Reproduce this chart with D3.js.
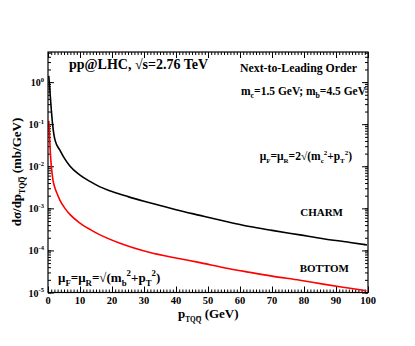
<!DOCTYPE html>
<head>
<meta charset="utf-8">
<style>
body { margin: 0; background: #fff; }
text { font-family: "Liberation Serif", "Times New Roman", serif; font-weight: bold; fill: #000; }
.frame { fill: none; stroke: #000; stroke-width: 1.2; }
.axis path { display: none; }
.axis line { stroke: #000; stroke-width: 1; }
.charm { fill: none; stroke: #000; stroke-width: 1.6; }
.bottom { fill: none; stroke: #f00; stroke-width: 1.6; }
.bar { stroke: #000; stroke-width: 0.8; }
</style>
</head>
<body>
<script src="https://cdnjs.cloudflare.com/ajax/libs/d3/7.8.5/d3.min.js"></script>
<script>
// data (mb/GeV)
var charmPt  = [0.25, 0.75, 1.4, 2.2, 3.75, 5.3, 6.9, 10, 13.1, 16.25, 20, 25, 30, 35, 40, 47.5, 55, 63, 70, 78.75, 86, 94.4, 99.7];
var charmVal = [1.41, 0.427, 0.105, 0.0417, 0.024, 0.0148, 0.01, 0.00617, 0.00437, 0.00324, 0.00251, 0.0019, 0.00148, 0.00117, 0.00093, 0.00068, 0.0005, 0.00037, 0.0003, 0.000234, 0.00019, 0.000155, 0.000135];

var bottomPt  = [0.25, 0.75, 1.56, 2.2, 2.8, 3.75, 5.3, 6.9, 10, 13.1, 16.25, 22.5, 31.9, 40, 47.5, 55, 63, 70, 78.75, 86, 94.4, 99.5];
var bottomVal = [0.12, 0.02, 0.00468, 0.00302, 0.00229, 0.00155, 0.001, 0.000708, 0.000447, 0.000316, 0.000234, 0.000148, 0.0000891, 0.0000661, 0.0000513, 0.0000389, 0.0000302, 0.0000245, 0.0000195, 0.0000158, 0.0000126, 0.000011];

var xTicks = [0, 10, 20, 30, 40, 50, 60, 70, 80, 90, 100];
var yTickExp = [-5, -4, -3, -2, -1, 0];

(function() {
	var
		W = 415,
		H = 346,
		margin = {top: 52, left: 48, right: 47, bottom: 53.5},
		w = W - margin.left - margin.right,
		h = H - margin.top - margin.bottom;

	var sx = d3.scaleLinear().domain([0, 100]).range([0, w]);
	var sy = d3.scaleLog().domain([1e-5, 5.2]).range([h, 0]);

	var svg = d3.select("body").append("svg")
		.attr("width", W)
		.attr("height", H);

	var vis = svg.append("g")
		.attr("transform", "translate(" + margin.left + "," + margin.top + ")");

	//
	// ticks, all pointing into the frame
	//
	var xMinor = d3.range(0, 101, 1);
	var yMajor = yTickExp.map(function(e) { return Math.pow(10, e); });
	var yMinor = sy.ticks().filter(function(v) { return v >= 1e-5 && v <= 5.2; });

	function axis(g, gen, vals, size) {
		g.attr("class", "axis")
			.call(gen.tickValues(vals).tickSize(-size).tickFormat(""));
	}
	axis(vis.append("g").attr("transform", "translate(0," + h + ")"), d3.axisBottom(sx), xMinor, 3);
	axis(vis.append("g").attr("transform", "translate(0," + h + ")"), d3.axisBottom(sx), xTicks, 6);
	axis(vis.append("g"), d3.axisTop(sx), xMinor, 3);
	axis(vis.append("g"), d3.axisTop(sx), xTicks, 6);
	axis(vis.append("g"), d3.axisLeft(sy), yMinor, 3);
	axis(vis.append("g"), d3.axisLeft(sy), yMajor, 6);
	axis(vis.append("g").attr("transform", "translate(" + w + ",0)"), d3.axisRight(sy), yMinor, 3);
	axis(vis.append("g").attr("transform", "translate(" + w + ",0)"), d3.axisRight(sy), yMajor, 6);

	// tick labels
	vis.selectAll(".xl").data(xTicks).enter().append("text")
		.attr("x", function(d) { return sx(d); })
		.attr("y", h + 11.5)
		.attr("text-anchor", "middle")
		.attr("font-size", 10.5)
		.text(function(d) { return d; });

	var yl = vis.selectAll(".yl").data(yTickExp).enter().append("text")
		.attr("x", -4)
		.attr("y", function(d) { return sy(Math.pow(10, d)) + 4; })
		.attr("text-anchor", "end")
		.attr("font-size", 10);
	yl.append("tspan").text("10");
	yl.append("tspan").attr("dy", -4.5).attr("font-size", 6.5).text(function(d) { return d; });

	//
	// curves
	//
	var line = d3.line()
		.curve(d3.curveMonotoneX)
		.x(function(d) { return sx(d[0]); })
		.y(function(d) { return sy(d[1]); });

	vis.append("path").attr("class", "charm")
		.attr("d", line(d3.zip(charmPt, charmVal)));
	vis.append("path").attr("class", "bottom")
		.attr("d", line(d3.zip(bottomPt, bottomVal)));

	vis.append("rect").attr("class", "frame")
		.attr("width", w).attr("height", h);

	//
	// labels with sub/superscripts; a third entry puts a bar over that piece
	//
	function rich(g, x, y, parts, size, anchor, sub) {
		sub = sub || 0.68;
		var t = g.append("text")
			.attr("x", x).attr("y", y)
			.attr("font-size", size)
			.attr("text-anchor", anchor || "start");
		var shift = 0, barred = [];
		parts.forEach(function(p) {
			var mode = p[1],
				target = mode == "sub" ? size * 0.3 : mode == "sup" ? -size * 0.45 : 0;
			var ts = t.append("tspan")
				.attr("dy", target - shift)
				.attr("font-size", mode ? size * sub : size)
				.text(p[0]);
			if (p[2]) barred.push(ts.node());
			shift = target;
		});
		barred.forEach(function(node) {
			var b = node.getBBox();
			g.append("line").attr("class", "bar")
				.attr("x1", b.x + 0.5).attr("x2", b.x + b.width - 0.5)
				.attr("y1", b.y + 1).attr("y2", b.y + 1);
		});
		return t;
	}

	rich(svg, 69, 69, [["pp@LHC, \u221As=2.76 TeV"]], 14);
	rich(svg, 357, 72, [["Next-to-Leading Order"]], 11.8, "end");
	rich(svg, 366, 95, [["m"], ["c", "sub"], ["=1.5 GeV; m"], ["b", "sub"], ["=4.5 GeV"]], 11.5, "end");
	rich(svg, 352, 160, [["\u03bc"], ["F", "sub"], ["=\u03bc"], ["R", "sub"], ["=2\u221A(m"], ["c", "sub"], ["2", "sup"], ["+p"], ["T", "sub"], ["2", "sup"], [")"]], 11.5, "end", 0.6);
	rich(svg, 343, 216, [["CHARM"]], 11, "end");
	rich(svg, 349, 272, [["BOTTOM"]], 11, "end");
	rich(svg, 58, 282, [["\u03bc"], ["F", "sub"], ["=\u03bc"], ["R", "sub"], ["=\u221A(m"], ["b", "sub"], ["2", "sup"], ["+p"], ["T", "sub"], ["2", "sup"], [")"]], 13);

	// axis titles
	rich(svg, 178, 318, [["p"], ["TQ", "sub"], ["Q", "sub", true], [" (GeV)"]], 13, "start", 0.56);
	rich(svg.append("g").attr("transform", "translate(21,172) rotate(-90)"), 0, 0,
		[["d\u03c3/dp"], ["TQ", "sub"], ["Q", "sub", true], [" (mb/GeV)"]], 13, "middle", 0.6);
})();
</script>
</body>
